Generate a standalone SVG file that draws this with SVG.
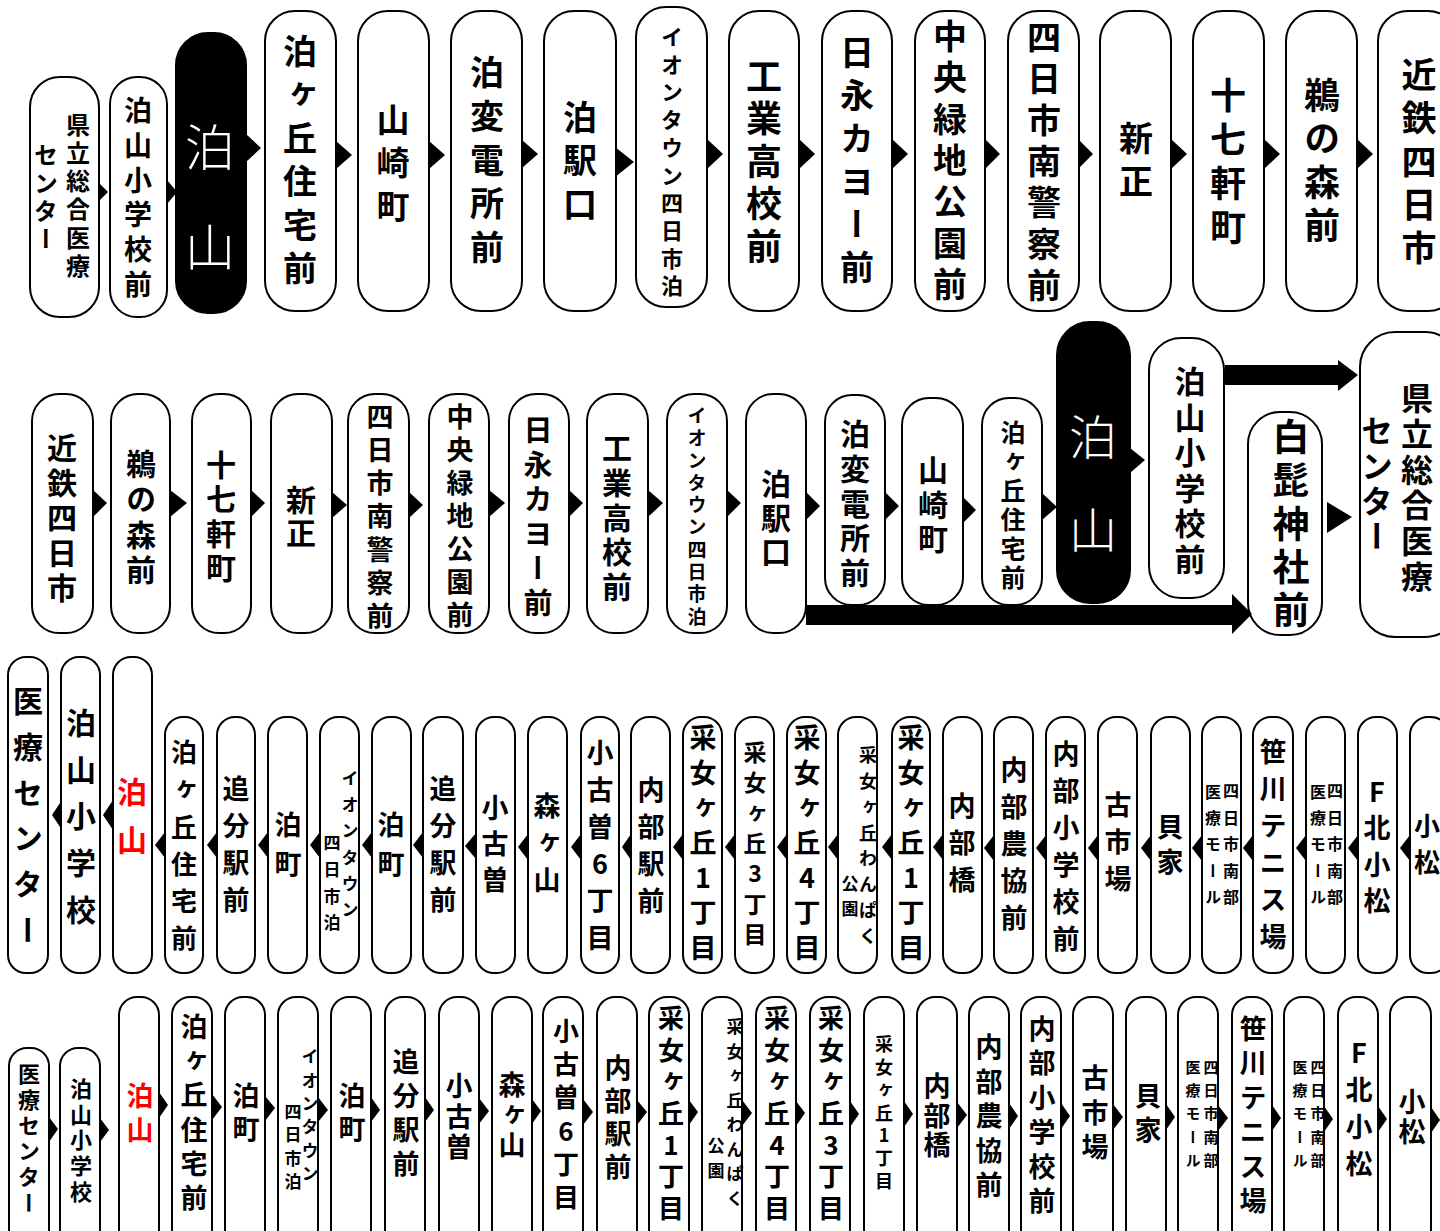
<svg xmlns="http://www.w3.org/2000/svg" width="1440" height="1231" viewBox="0 0 1440 1231">
<style>
.n{fill:#fff;stroke:#000;stroke-width:2}
.b{fill:#000;stroke:#000;stroke-width:2}
.t{font-family:"Noto Sans CJK JP","Noto Sans CJK SC",sans-serif;font-weight:700;writing-mode:vertical-rl;text-orientation:upright;text-anchor:middle;fill:#000}
.w{fill:#fff;font-weight:300}
.r{fill:#f00}
.a{fill:#000}
</style>
<rect width="1440" height="1231" fill="#fff"/>
<!-- Row 1 -->
<g id="r1n1"><rect class="n" x="30" y="77" width="69" height="240" rx="30"/><text class="t" x="78" y="125 153 181 209 238 266" font-size="24">県立総合医療</text><text class="t" x="46" y="155 183 211 239" font-size="24">センター</text></g>
<g id="r1n2"><rect class="n" x="110" y="77" width="57" height="240" rx="27"/><text class="t" x="138" y="110 145 180 214 249 284" font-size="28">泊山小学校前</text></g>
<g id="r1n3"><rect class="b" x="176" y="33" width="70" height="280" rx="32"/><text class="t w" x="210" y="147 247" font-size="50">泊山</text></g>
<g id="r1n4"><rect class="n" x="265" y="11" width="71" height="300" rx="30"/><text class="t" x="300" y="51 94 138 181 225 268" font-size="34">泊ヶ丘住宅前</text></g>
<g id="r1n5"><rect class="n" x="358" y="11" width="71" height="300" rx="30"/><text class="t" x="393" y="119 162 206" font-size="33">山崎町</text></g>
<g id="r1n6"><rect class="n" x="451" y="11" width="71" height="300" rx="30"/><text class="t" x="487" y="72 116 160 203 247" font-size="34">泊変電所前</text></g>
<g id="r1n7"><rect class="n" x="544" y="11" width="72" height="300" rx="30"/><text class="t" x="580" y="117 160 204" font-size="34">泊駅口</text></g>
<g id="r1n8"><rect class="n" x="636" y="7" width="71" height="300" rx="30"/><text class="t" x="672" y="37 65 92 120 148 176 203 231 259 286" font-size="22">イオンタウン四日市泊</text></g>
<g id="r1n9"><rect class="n" x="729" y="11" width="70" height="300" rx="30"/><text class="t" x="764" y="76 118 161 203 246" font-size="36">工業高校前</text></g>
<g id="r1n10"><rect class="n" x="822" y="11" width="70" height="300" rx="30"/><text class="t" x="857" y="52 95 138 181 224 267" font-size="34">日永カヨー前</text></g>
<g id="r1n11"><rect class="n" x="915" y="11" width="70" height="300" rx="30"/><text class="t" x="950" y="36 77 119 160 201 243 284" font-size="34">中央緑地公園前</text></g>
<g id="r1n12"><rect class="n" x="1008" y="11" width="71" height="300" rx="30"/><text class="t" x="1044" y="37 78 120 161 202 244 285" font-size="34">四日市南警察前</text></g>
<g id="r1n13"><rect class="n" x="1100" y="11" width="71" height="300" rx="30"/><text class="t" x="1136" y="138 181" font-size="34">新正</text></g>
<g id="r1n14"><rect class="n" x="1193" y="11" width="71" height="300" rx="30"/><text class="t" x="1228" y="95 139 183 227" font-size="36">十七軒町</text></g>
<g id="r1n15"><rect class="n" x="1286" y="11" width="71" height="300" rx="30"/><text class="t" x="1322" y="95 138 182 225" font-size="36">鵜の森前</text></g>
<g id="r1n16"><rect class="n" x="1378" y="11" width="80" height="300" rx="30"/><text class="t" x="1419" y="75 118 162 205 248" font-size="35">近鉄四日市</text></g>
<!-- Row 2 -->
<g id="r2n1"><rect class="n" x="32" y="394" width="61" height="239" rx="27"/><text class="t" x="62" y="448 483 518 553 588" font-size="30">近鉄四日市</text></g>
<g id="r2n2"><rect class="n" x="111" y="394" width="59" height="239" rx="27"/><text class="t" x="141" y="464 499 535 570" font-size="30">鵜の森前</text></g>
<g id="r2n3"><rect class="n" x="192" y="394" width="59" height="239" rx="27"/><text class="t" x="221" y="465 499 534 568" font-size="30">十七軒町</text></g>
<g id="r2n4"><rect class="n" x="271" y="394" width="61" height="239" rx="27"/><text class="t" x="301" y="500 533" font-size="30">新正</text></g>
<g id="r2n5"><rect class="n" x="348" y="394" width="61" height="239" rx="27"/><text class="t" x="380" y="417 450 483 516 550 583 616" font-size="27">四日市南警察前</text></g>
<g id="r2n6"><rect class="n" x="429" y="394" width="60" height="239" rx="27"/><text class="t" x="460" y="417 450 483 516 549 582 615" font-size="27">中央緑地公園前</text></g>
<g id="r2n7"><rect class="n" x="509" y="394" width="60" height="239" rx="27"/><text class="t" x="538" y="430 465 499 534 568 603" font-size="29">日永カヨー前</text></g>
<g id="r2n8"><rect class="n" x="587" y="394" width="61" height="239" rx="27"/><text class="t" x="617" y="448 483 518 552 587" font-size="30">工業高校前</text></g>
<g id="r2n9"><rect class="n" x="667" y="394" width="60" height="239" rx="27"/><text class="t" x="697" y="416 438 461 483 505 527 550 572 594 617" font-size="19">イオンタウン四日市泊</text></g>
<g id="r2n10"><rect class="n" x="746" y="394" width="60" height="239" rx="27"/><text class="t" x="776" y="484 518 552" font-size="30">泊駅口</text></g>
<g id="r2n11"><rect class="n" x="825" y="395" width="60" height="210" rx="27"/><text class="t" x="855" y="434 469 504 538 573" font-size="30">泊変電所前</text></g>
<g id="r2n12"><rect class="n" x="902" y="398" width="61" height="207" rx="27"/><text class="t" x="933" y="470 505 539" font-size="30">山崎町</text></g>
<g id="r2n13"><rect class="n" x="982" y="398" width="60" height="207" rx="27"/><text class="t" x="1013" y="432 461 490 519 548 577" font-size="25">泊ヶ丘住宅前</text></g>
<g id="r2n14"><rect class="b" x="1057" y="322" width="73" height="281" rx="33"/><text class="t w" x="1093" y="437 530" font-size="48">泊山</text></g>
<g id="r2n15"><rect class="n" x="1149" y="338" width="75" height="260" rx="32"/><text class="t" x="1190" y="381 417 452 488 523 559" font-size="31">泊山小学校前</text></g>
<g id="r2n16"><rect class="n" x="1248" y="412" width="74" height="223" rx="32"/><text class="t" x="1291" y="437 480 524 567 610" font-size="37">白髭神社前</text></g>
<g id="r2n17"><rect class="n" x="1360" y="332" width="100" height="305" rx="35"/><text class="t" x="1417" y="398 434 470 505 541 577" font-size="32">県立総合医療</text><text class="t" x="1377" y="431 466 501 536" font-size="32">センター</text></g>
<!-- Row 3 -->
<g id="r3n1"><rect class="n" x="8" y="657" width="40" height="316" rx="18"/><text class="t" x="28" y="701 747 793 838 884 930" font-size="30">医療センター</text></g>
<g id="r3n2"><rect class="n" x="61" y="657" width="39" height="316" rx="18"/><text class="t" x="81" y="723 770 816 863 910" font-size="30">泊山小学校</text></g>
<g id="r3n3"><rect class="n" x="113" y="657" width="39" height="316" rx="18"/><text class="t r" x="132" y="792 840" font-size="30">泊山</text></g>
<g id="r3n4"><rect class="n" x="165" y="717" width="38" height="256" rx="18"/><text class="t" x="184" y="752 789 827 864 901 938" font-size="26">泊ヶ丘住宅前</text></g>
<g id="r3n5"><rect class="n" x="217" y="717" width="38" height="256" rx="18"/><text class="t" x="236" y="789 826 863 900" font-size="27">追分駅前</text></g>
<g id="r3n6"><rect class="n" x="268" y="717" width="39" height="256" rx="18"/><text class="t" x="288" y="825 864" font-size="27">泊町</text></g>
<g id="r3n7"><rect class="n" x="320" y="717" width="39" height="256" rx="18"/><text class="t" x="350" y="779 805 831 858 884 910" font-size="17">イオンタウン</text><text class="t" x="332" y="843 870 897 923" font-size="17">四日市泊</text></g>
<g id="r3n8"><rect class="n" x="372" y="717" width="39" height="256" rx="18"/><text class="t" x="391" y="825 864" font-size="27">泊町</text></g>
<g id="r3n9"><rect class="n" x="423" y="717" width="40" height="256" rx="18"/><text class="t" x="443" y="789 826 863 900" font-size="27">追分駅前</text></g>
<g id="r3n10"><rect class="n" x="476" y="717" width="39" height="256" rx="18"/><text class="t" x="495" y="808 844 880" font-size="27">小古曽</text></g>
<g id="r3n11"><rect class="n" x="528" y="717" width="39" height="256" rx="18"/><text class="t" x="547" y="806 843 880" font-size="27">森ヶ山</text></g>
<g id="r3n12"><rect class="n" x="581" y="717" width="38" height="256" rx="18"/><text class="t" x="600" y="753 790 827 864 901 938" font-size="27">小古曽6丁目</text></g>
<g id="r3n13"><rect class="n" x="631" y="717" width="39" height="256" rx="18"/><text class="t" x="651" y="790 827 864 901" font-size="27">内部駅前</text></g>
<g id="r3n14"><rect class="n" x="683" y="717" width="39" height="256" rx="18"/><text class="t" x="703" y="738 773 808 843 878 913 948" font-size="27">采女ヶ丘1丁目</text></g>
<g id="r3n15"><rect class="n" x="735" y="717" width="39" height="256" rx="18"/><text class="t" x="755" y="752 782 813 843 873 904 934" font-size="23">采女ヶ丘3丁目</text></g>
<g id="r3n16"><rect class="n" x="787" y="717" width="39" height="256" rx="18"/><text class="t" x="807" y="738 773 808 843 878 913 948" font-size="27">采女ヶ丘4丁目</text></g>
<g id="r3n17"><rect class="n" x="838" y="717" width="39" height="256" rx="18"/><text class="t" x="868" y="755 781 807 833 858 884 910 936" font-size="18">采女ヶ丘わんぱく</text><text class="t" x="850" y="884 909" font-size="17">公園</text></g>
<g id="r3n18"><rect class="n" x="892" y="717" width="38" height="256" rx="18"/><text class="t" x="911" y="738 773 808 843 878 913 948" font-size="27">采女ヶ丘1丁目</text></g>
<g id="r3n19"><rect class="n" x="943" y="717" width="39" height="256" rx="18"/><text class="t" x="962" y="806 843 880" font-size="27">内部橋</text></g>
<g id="r3n20"><rect class="n" x="994" y="717" width="39" height="256" rx="18"/><text class="t" x="1014" y="770 807 844 881 918" font-size="27">内部農協前</text></g>
<g id="r3n21"><rect class="n" x="1046" y="717" width="39" height="256" rx="18"/><text class="t" x="1066" y="754 791 828 865 902 939" font-size="27">内部小学校前</text></g>
<g id="r3n22"><rect class="n" x="1098" y="717" width="39" height="256" rx="18"/><text class="t" x="1118" y="805 842 879" font-size="27">古市場</text></g>
<g id="r3n23"><rect class="n" x="1151" y="717" width="39" height="256" rx="18"/><text class="t" x="1170" y="827 862" font-size="27">貝家</text></g>
<g id="r3n24"><rect class="n" x="1202" y="717" width="39" height="256" rx="18"/><text class="t" x="1231" y="791 818 844 871 897" font-size="16">四日市南部</text><text class="t" x="1213" y="792 818 844 871 897" font-size="16">医療モール</text></g>
<g id="r3n25"><rect class="n" x="1253" y="717" width="40" height="256" rx="18"/><text class="t" x="1273" y="752 789 826 863 900 937" font-size="27">笹川テニス場</text></g>
<g id="r3n26"><rect class="n" x="1306" y="717" width="39" height="256" rx="18"/><text class="t" x="1335" y="791 818 844 871 897" font-size="16">四日市南部</text><text class="t" x="1318" y="792 818 844 871 897" font-size="16">医療モール</text></g>
<g id="r3n27"><rect class="n" x="1358" y="717" width="39" height="256" rx="18"/><text class="t" x="1377" y="792 828 865 901" font-size="27">F北小松</text></g>
<g id="r3n28"><rect class="n" x="1410" y="717" width="39" height="256" rx="18"/><text class="t" x="1427" y="826 862" font-size="26">小松</text></g>
<!-- Row 4 -->
<g id="r4n1"><rect class="n" x="9" y="1048" width="40" height="200" rx="18"/><text class="t" x="29" y="1074 1100 1126 1151 1177 1203" font-size="22">医療センター</text></g>
<g id="r4n2"><rect class="n" x="60" y="1048" width="40" height="200" rx="18"/><text class="t" x="81" y="1089 1115 1140 1166 1192" font-size="22">泊山小学校</text></g>
<g id="r4n3"><rect class="n" x="119" y="997" width="40" height="250" rx="18"/><text class="t r" x="140" y="1096 1130" font-size="27">泊山</text></g>
<g id="r4n4"><rect class="n" x="172" y="997" width="40" height="250" rx="18"/><text class="t" x="194" y="1027 1061 1095 1130 1164 1198" font-size="27">泊ヶ丘住宅前</text></g>
<g id="r4n5"><rect class="n" x="225" y="997" width="40" height="250" rx="18"/><text class="t" x="246" y="1096 1129" font-size="27">泊町</text></g>
<g id="r4n6"><rect class="n" x="278" y="997" width="40" height="250" rx="18"/><text class="t" x="310" y="1057 1081 1104 1127 1151 1174" font-size="17">イオンタウン</text><text class="t" x="293" y="1112 1135 1159 1182" font-size="17">四日市泊</text></g>
<g id="r4n7"><rect class="n" x="331" y="997" width="40" height="250" rx="18"/><text class="t" x="352" y="1096 1129" font-size="27">泊町</text></g>
<g id="r4n8"><rect class="n" x="385" y="997" width="40" height="250" rx="18"/><text class="t" x="406" y="1062 1096 1130 1164" font-size="27">追分駅前</text></g>
<g id="r4n9"><rect class="n" x="439" y="997" width="40" height="250" rx="18"/><text class="t" x="459" y="1086 1117 1147" font-size="27">小古曽</text></g>
<g id="r4n10"><rect class="n" x="492" y="997" width="40" height="250" rx="18"/><text class="t" x="512" y="1085 1115 1145" font-size="27">森ヶ山</text></g>
<g id="r4n11"><rect class="n" x="543" y="997" width="40" height="250" rx="18"/><text class="t" x="566" y="1031 1064 1097 1131 1164 1197" font-size="26">小古曽6丁目</text></g>
<g id="r4n12"><rect class="n" x="597" y="997" width="40" height="250" rx="18"/><text class="t" x="618" y="1068 1101 1134 1167" font-size="27">内部駅前</text></g>
<g id="r4n13"><rect class="n" x="649" y="997" width="40" height="250" rx="18"/><text class="t" x="671" y="1018 1050 1081 1113 1145 1176 1208" font-size="26">采女ヶ丘1丁目</text></g>
<g id="r4n14"><rect class="n" x="702" y="997" width="40" height="250" rx="18"/><text class="t" x="735" y="1027 1052 1076 1101 1125 1150 1174 1199" font-size="17">采女ヶ丘わんぱく</text><text class="t" x="716" y="1146 1171" font-size="17">公園</text></g>
<g id="r4n15"><rect class="n" x="756" y="997" width="40" height="250" rx="18"/><text class="t" x="777" y="1018 1050 1081 1113 1145 1176 1208" font-size="26">采女ヶ丘4丁目</text></g>
<g id="r4n16"><rect class="n" x="810" y="997" width="40" height="250" rx="18"/><text class="t" x="831" y="1018 1050 1081 1113 1145 1176 1208" font-size="26">采女ヶ丘3丁目</text></g>
<g id="r4n17"><rect class="n" x="864" y="997" width="40" height="250" rx="18"/><text class="t" x="884" y="1044 1067 1090 1113 1135 1158 1181" font-size="18">采女ヶ丘1丁目</text></g>
<g id="r4n18"><rect class="n" x="917" y="997" width="40" height="250" rx="18"/><text class="t" x="937" y="1086 1116 1145" font-size="27">内部橋</text></g>
<g id="r4n19"><rect class="n" x="969" y="997" width="40" height="250" rx="18"/><text class="t" x="989" y="1047 1082 1116 1151 1185" font-size="27">内部農協前</text></g>
<g id="r4n20"><rect class="n" x="1021" y="997" width="40" height="250" rx="18"/><text class="t" x="1042" y="1029 1063 1098 1132 1167 1201" font-size="27">内部小学校前</text></g>
<g id="r4n21"><rect class="n" x="1073" y="997" width="40" height="250" rx="18"/><text class="t" x="1095" y="1078 1113 1147" font-size="27">古市場</text></g>
<g id="r4n22"><rect class="n" x="1126" y="997" width="40" height="250" rx="18"/><text class="t" x="1148" y="1096 1130" font-size="27">貝家</text></g>
<g id="r4n23"><rect class="n" x="1178" y="997" width="40" height="250" rx="18"/><text class="t" x="1211" y="1067 1090 1113 1137 1160" font-size="15">四日市南部</text><text class="t" x="1193" y="1067 1090 1113 1137 1160" font-size="15">医療モール</text></g>
<g id="r4n24"><rect class="n" x="1232" y="997" width="40" height="250" rx="18"/><text class="t" x="1253" y="1029 1063 1098 1132 1167 1201" font-size="27">笹川テニス場</text></g>
<g id="r4n25"><rect class="n" x="1284" y="997" width="40" height="250" rx="18"/><text class="t" x="1318" y="1067 1090 1113 1137 1160" font-size="15">四日市南部</text><text class="t" x="1300" y="1067 1090 1113 1137 1160" font-size="15">医療モール</text></g>
<g id="r4n26"><rect class="n" x="1338" y="997" width="40" height="250" rx="18"/><text class="t" x="1359" y="1053 1090 1127 1164" font-size="27">F北小松</text></g>
<g id="r4n27"><rect class="n" x="1390" y="997" width="41" height="250" rx="18"/><text class="t" x="1412" y="1102 1132" font-size="27">小松</text></g>
<!-- Connectors -->
<g id="connectors" class="a">
<polygon points="99,183 108,192 99,201"/>
<polygon points="167,180 177,192 167,204"/>
<polygon points="246,134 261,148 246,162"/>
<polygon points="336,141 352,155 336,169"/>
<polygon points="429,141 445,155 429,169"/>
<polygon points="522,140 538,154 522,168"/>
<polygon points="615,147 634,162 615,177"/>
<polygon points="707,139 723,154 707,169"/>
<polygon points="799,139 815,154 799,169"/>
<polygon points="892,139 908,154 892,169"/>
<polygon points="985,139 1000,154 985,169"/>
<polygon points="1078,139 1093,154 1078,169"/>
<polygon points="1171,139 1187,154 1171,169"/>
<polygon points="1264,139 1280,154 1264,169"/>
<polygon points="1357,139 1373,154 1357,169"/>
<polygon points="93,490 107,503 93,517"/>
<polygon points="170,490 187,503 170,517"/>
<polygon points="251,490 265,503 251,517"/>
<polygon points="332,492 347,505 332,518"/>
<polygon points="409,492 423,505 409,518"/>
<polygon points="489,490 505,503 489,517"/>
<polygon points="569,490 583,503 569,517"/>
<polygon points="648,490 663,503 648,517"/>
<polygon points="727,490 741,503 727,517"/>
<polygon points="806,492 820,506 806,520"/>
<polygon points="885,492 899,506 885,520"/>
<polygon points="963,497 976,510 963,523"/>
<polygon points="1042,493 1057,507 1042,520"/>
<polygon points="1130,448 1145,460 1130,473"/>
<polygon points="1327,502 1352,517 1327,533"/>
<polygon points="1225,365 1338,365 1338,360 1358,375 1338,391 1338,385 1225,385"/>
<polygon points="806,605 1232,605 1232,594 1252,614 1232,634 1232,625 806,625"/>
<polygon points="52,815 62,800 62,830"/>
<polygon points="103,815 113,800 113,830"/>
<polygon points="155,845 165,832 165,858"/>
<polygon points="207,845 217,832 217,858"/>
<polygon points="258,845 268,832 268,858"/>
<polygon points="310,845 320,832 320,858"/>
<polygon points="362,845 372,832 372,858"/>
<polygon points="413,845 423,832 423,858"/>
<polygon points="465,846 476,833 476,859"/>
<polygon points="518,847 528,834 528,860"/>
<polygon points="571,847 581,834 581,860"/>
<polygon points="622,847 631,834 631,860"/>
<polygon points="673,847 683,834 683,860"/>
<polygon points="725,847 735,834 735,860"/>
<polygon points="777,847 787,834 787,860"/>
<polygon points="828,847 838,834 838,860"/>
<polygon points="882,847 892,834 892,860"/>
<polygon points="933,847 943,834 943,860"/>
<polygon points="984,848 994,835 994,861"/>
<polygon points="1036,848 1046,835 1046,861"/>
<polygon points="1088,848 1098,835 1098,861"/>
<polygon points="1141,848 1151,835 1151,861"/>
<polygon points="1192,848 1202,835 1202,861"/>
<polygon points="1243,848 1253,835 1253,861"/>
<polygon points="1296,848 1306,835 1306,861"/>
<polygon points="1348,848 1358,835 1358,861"/>
<polygon points="1400,848 1410,835 1410,861"/>
<polygon points="49,1117 58,1129 49,1142"/>
<polygon points="100,1118 109,1130 100,1142"/>
<polygon points="159,1092 168,1105 159,1118"/>
<polygon points="212,1094 222,1107 212,1120"/>
<polygon points="265,1096 275,1108 265,1121"/>
<polygon points="318,1097 328,1110 318,1122"/>
<polygon points="371,1097 380,1110 371,1122"/>
<polygon points="425,1097 434,1110 425,1122"/>
<polygon points="479,1098 489,1111 479,1124"/>
<polygon points="532,1099 541,1111 532,1124"/>
<polygon points="583,1099 593,1112 583,1125"/>
<polygon points="637,1100 647,1112 637,1125"/>
<polygon points="689,1100 698,1112 689,1125"/>
<polygon points="742,1100 752,1113 742,1126"/>
<polygon points="796,1101 805,1113 796,1126"/>
<polygon points="850,1101 859,1114 850,1127"/>
<polygon points="904,1101 913,1114 904,1127"/>
<polygon points="957,1102 967,1115 957,1128"/>
<polygon points="1009,1103 1018,1116 1009,1129"/>
<polygon points="1061,1103 1070,1116 1061,1129"/>
<polygon points="1113,1104 1123,1117 1113,1130"/>
<polygon points="1166,1104 1175,1117 1166,1130"/>
<polygon points="1218,1105 1228,1118 1218,1131"/>
<polygon points="1272,1105 1281,1118 1272,1131"/>
<polygon points="1324,1106 1333,1119 1324,1132"/>
<polygon points="1378,1106 1387,1119 1378,1132"/>
<polygon points="1431,1107 1440,1120 1431,1133"/>
</g>
</svg>
